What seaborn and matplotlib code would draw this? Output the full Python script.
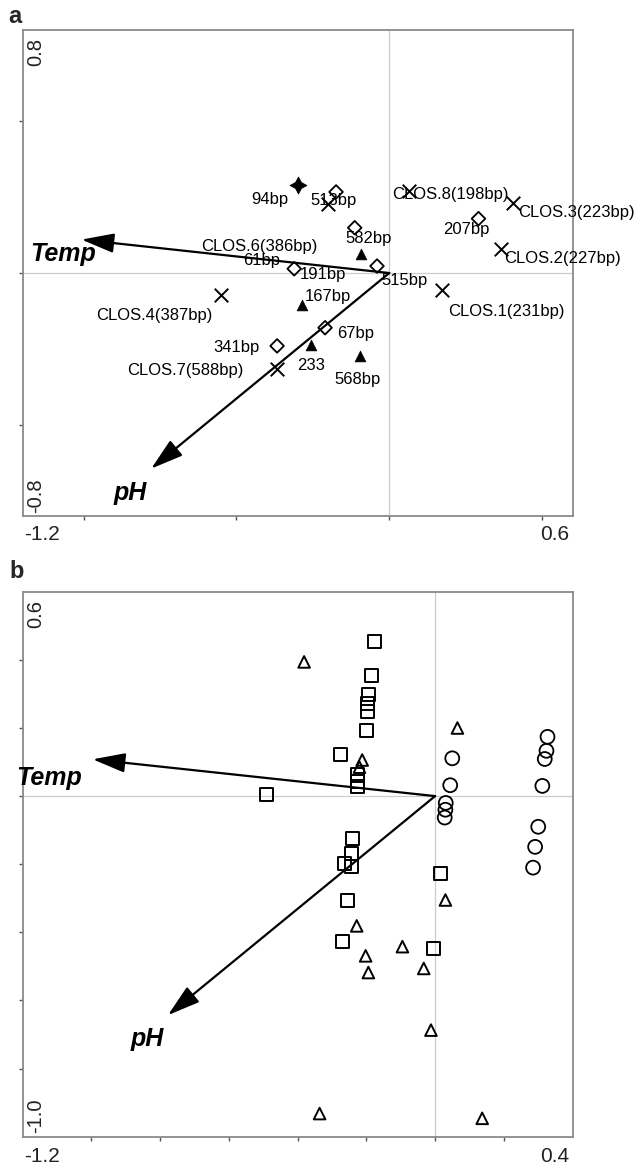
import matplotlib
matplotlib.use("Agg")
import matplotlib.pyplot as plt
import seaborn as sns
import numpy as np

# ---------------- data ----------------
# Panel a: species / fragments
a_names = ['94bp', '513bp', 'CLOS.6(386bp)', 'CLOS.8(198bp)', 'CLOS.3(223bp)',
           '207bp', 'CLOS.2(227bp)', '582bp', '61bp', '515bp', '191bp',
           'CLOS.4(387bp)', '167bp', 'CLOS.1(231bp)', '67bp', '341bp', '233',
           'CLOS.7(588bp)', '568bp']
a_kind = ['star', 'diamond', 'cross', 'cross', 'cross',
          'diamond', 'cross', 'diamond', 'triangle', 'diamond', 'diamond',
          'cross', 'triangle', 'cross', 'diamond', 'diamond', 'triangle',
          'cross', 'triangle']
a_x = [-0.297, -0.174, -0.200, 0.064, 0.405,
       0.292, 0.365, -0.113, -0.092, -0.040, -0.311,
       -0.552, -0.287, 0.171, -0.210, -0.367, -0.257,
       -0.367, -0.097]
a_y = [0.289, 0.267, 0.228, 0.270, 0.231,
       0.179, 0.080, 0.149, 0.062, 0.023, 0.014,
       -0.073, -0.106, -0.057, -0.180, -0.240, -0.238,
       -0.317, -0.274]
# label anchor positions (centre of each label text)
a_lab_x = [-0.391, -0.183, -0.424, 0.201, 0.614,
           0.252, 0.567, -0.068, -0.418, 0.049, -0.218,
           -0.768, -0.201, 0.384, -0.111, -0.499, -0.256,
           -0.668, -0.103]
a_lab_y = [0.242, 0.239, 0.086, 0.258, 0.198,
           0.143, 0.047, 0.115, 0.042, -0.024, -0.005,
           -0.141, -0.077, -0.128, -0.200, -0.244, -0.304,
           -0.320, -0.351]

# environmental vectors
env_names = ['Temp', 'pH']
a_env_x = [-1.007, -0.779]
a_env_y = [0.110, -0.644]
a_env_lab_x = [-1.068, -0.849]
a_env_lab_y = [0.062, -0.724]

# Panel b: samples
b_sq_x = [-0.176, -0.186, -0.193, -0.196, -0.196, -0.200, -0.276, -0.225, -0.225,
          -0.225, -0.490, -0.239, -0.244, -0.264, -0.244, 0.015, -0.256, -0.270, -0.006]
b_sq_y = [0.453, 0.355, 0.297, 0.272, 0.248, 0.194, 0.122, 0.062, 0.044,
          0.029, 0.005, -0.124, -0.168, -0.198, -0.208, -0.227, -0.306, -0.428, -0.447]
b_tri_x = [-0.381, 0.065, -0.212, -0.220, 0.030, -0.228, -0.095, -0.202, -0.194,
           -0.033, -0.012, -0.336, 0.137]
b_tri_y = [0.394, 0.200, 0.106, 0.085, -0.305, -0.381, -0.442, -0.469, -0.518,
           -0.506, -0.687, -0.932, -0.946]
b_cir_x = [0.327, 0.324, 0.319, 0.050, 0.044, 0.312, 0.031, 0.030, 0.028,
           0.300, 0.291, 0.285]
b_cir_y = [0.174, 0.133, 0.109, 0.111, 0.032, 0.030, -0.020, -0.040, -0.063,
           -0.090, -0.149, -0.210]
b_env_x = [-0.996, -0.777]
b_env_y = [0.108, -0.643]
b_env_lab_x = [-1.124, -0.836]
b_env_lab_y = [0.052, -0.713]

a_xlim = (-1.2, 0.6)
a_ylim = (-0.8, 0.8)
b_xlim = (-1.2, 0.4)
b_ylim = (-1.0, 0.6)
a_xticks = [-1.0, -0.5, 0.0, 0.5]
a_yticks = [-0.5, 0.0, 0.5]
b_xticks = [-1.0, -0.8, -0.6, -0.4, -0.2, 0.0, 0.2]
b_yticks = [-0.8, -0.6, -0.4, -0.2, 0.0, 0.2, 0.4]

# ---------------- style ----------------
sns.set_style("white")
plt.rcParams['font.family'] = ['Liberation Sans', 'DejaVu Sans']

fig = plt.figure(figsize=(6.38, 11.72), dpi=100)
ax_a = fig.add_axes([0.0353, 0.5597, 0.8622, 0.4147])
ax_b = fig.add_axes([0.0353, 0.0301, 0.8622, 0.4650])

SPINE = '#8a8a8a'
ZERO = '#cccccc'


def frame(ax, xlim, ylim, xt, yt, xl, yl):
    ax.set_xlim(*xlim)
    ax.set_ylim(*ylim)
    ax.axhline(0, color=ZERO, lw=0.9, zorder=0)
    ax.axvline(0, color=ZERO, lw=0.9, zorder=0)
    for s in ax.spines.values():
        s.set_color(SPINE)
        s.set_linewidth(1.3)
    ax.set_xticks(xt)
    ax.set_yticks(yt)
    ax.tick_params(direction='out', length=3, width=1.0, color='#555555',
                   labelbottom=False, labelleft=False, bottom=True, left=True)
    ax.set_xlabel('')
    ax.set_ylabel('')
    ax.grid(False)
    # end tick labels in Canoco style
    ax.text(0.003, -0.018, xl[0], transform=ax.transAxes, ha='left', va='top',
            fontsize=15, color='#222222')
    ax.text(0.993, -0.018, xl[1], transform=ax.transAxes, ha='right', va='top',
            fontsize=15, color='#222222')
    ax.text(0.007, 0.984, yl[1], transform=ax.transAxes, ha='left', va='top',
            rotation=90, fontsize=14.5, color='#222222')
    ax.text(0.007, 0.006, yl[0], transform=ax.transAxes, ha='left', va='bottom',
            rotation=90, fontsize=14.5, color='#222222')


def arrows(ax, ex, ey, lx, ly):
    for name, x, y, tx, ty in zip(env_names, ex, ey, lx, ly):
        ax.annotate('', xy=(x, y), xytext=(0, 0),
                    arrowprops=dict(arrowstyle='-|>,head_length=2.0,head_width=0.6',
                                    mutation_scale=10, lw=1.6, color='black',
                                    shrinkA=0, shrinkB=0), zorder=4)
        ax.text(tx, ty, name, ha='center', va='center', fontsize=18,
                fontweight='bold', fontstyle='italic', color='black', zorder=5)


# ---------------- panel a ----------------
frame(ax_a, a_xlim, a_ylim, a_xticks, a_yticks, ('-1.2', '0.6'), ('-0.8', '0.8'))

styles_a = {
    'star': dict(marker=(4, 1, 0), s=150, facecolor='black', edgecolor='black', linewidth=0.5),
    'diamond': dict(marker='D', s=48, facecolor='none', edgecolor='black', linewidth=1.3),
    'cross': dict(marker='x', s=95, linewidth=1.4),
    'triangle': dict(marker='^', s=60, facecolor='black', edgecolor='black', linewidth=0.5),
}
for kind, st in styles_a.items():
    xs = [x for x, k in zip(a_x, a_kind) if k == kind]
    ys = [y for y, k in zip(a_y, a_kind) if k == kind]
    sns.scatterplot(x=xs, y=ys, ax=ax_a, color='black', zorder=3, legend=False, **st)

for name, tx, ty in zip(a_names, a_lab_x, a_lab_y):
    ax_a.text(tx, ty, name, ha='center', va='center', fontsize=12, color='black', zorder=6)

arrows(ax_a, a_env_x, a_env_y, a_env_lab_x, a_env_lab_y)
ax_a.set_xlim(*a_xlim)
ax_a.set_ylim(*a_ylim)

# ---------------- panel b ----------------
frame(ax_b, b_xlim, b_ylim, b_xticks, b_yticks, ('-1.2', '0.4'), ('-1.0', '0.6'))

sns.scatterplot(x=b_sq_x, y=b_sq_y, ax=ax_b, marker='s', s=88, color='black',
                facecolor='none', edgecolor='black', linewidth=1.4, zorder=3, legend=False)
sns.scatterplot(x=b_tri_x, y=b_tri_y, ax=ax_b, marker='^', s=70, color='black',
                facecolor='none', edgecolor='black', linewidth=1.4, zorder=3, legend=False)
sns.scatterplot(x=b_cir_x, y=b_cir_y, ax=ax_b, marker='o', s=100, color='black',
                facecolor='none', edgecolor='black', linewidth=1.3, zorder=3, legend=False)

arrows(ax_b, b_env_x, b_env_y, b_env_lab_x, b_env_lab_y)
ax_b.set_xlim(*b_xlim)
ax_b.set_ylim(*b_ylim)

fig.text(8 / 638, 1 - 5 / 1172, 'a', ha='left', va='top', fontsize=17, fontweight='bold')
fig.text(9 / 638, 1 - 560 / 1172, 'b', ha='left', va='top', fontsize=17, fontweight='bold')

fig.savefig('out.png', dpi=100, facecolor='white')
